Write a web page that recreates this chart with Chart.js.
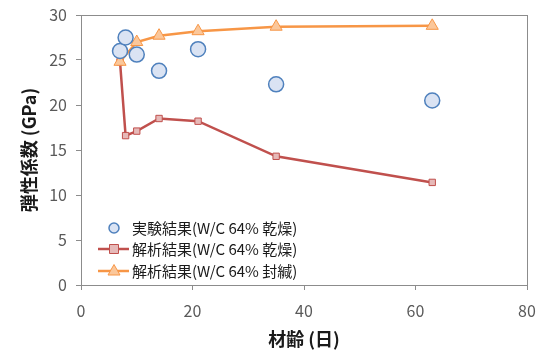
<!DOCTYPE html>
<html>
<head>
<meta charset="utf-8">
<script src="https://cdn.jsdelivr.net/npm/chart.js@4/dist/chart.umd.min.js"></script>
<style>
  html, body { margin: 0; padding: 0; background: #fff; }
  #wrap { width: 541px; height: 350px; position: relative; }
</style>
</head>
<body>
<div id="wrap"><canvas id="c" width="541" height="350"></canvas></div>
<script>
// Ages (days) and elastic modulus (GPa)
const expDays = [7, 8, 10, 14, 21, 35, 63];
const expValues = [26.0, 27.5, 25.6, 23.8, 26.2, 22.3, 20.5];

const dryDays = [7, 8, 10, 14, 21, 35, 63];
const dryValues = [24.8, 16.6, 17.1, 18.5, 18.2, 14.3, 11.4];

const sealDays = [7, 10, 14, 21, 35, 63];
const sealValues = [24.8, 27.0, 27.7, 28.2, 28.7, 28.8];

const seriesLabels = [
  '実験結果(W/C 64% 乾燥)',
  '解析結果(W/C 64% 乾燥)',
  '解析結果(W/C 64% 封緘)'
];
const xTicks = [0, 20, 40, 60, 80];
const yTicks = [0, 5, 10, 15, 20, 25, 30];
const xTitle = '材齢 (日)';
const yTitle = '弾性係数 (GPa)';

const FONT = '"Noto Sans CJK JP", "Noto Sans", sans-serif';

const toPts = (xs, ys) => xs.map((x, i) => ({ x: x, y: ys[i] }));

// Plot frame around the chart area
const framePlugin = {
  id: 'frame',
  afterDraw(chart) {
    const a = chart.chartArea, ctx = chart.ctx;
    ctx.save();
    ctx.strokeStyle = '#8c8c8c';
    ctx.lineWidth = 1;
    ctx.strokeRect(Math.round(a.left) + 0.5, Math.round(a.top) + 0.5,
                   Math.round(a.right - a.left), Math.round(a.bottom - a.top));
    ctx.restore();
  }
};

// Legend inside the plot, lower left: marker (with line for line series) + label
const legendPlugin = {
  id: 'innerLegend',
  afterDraw(chart) {
    const ctx = chart.ctx;
    const x0 = 98, rowY = [228, 249, 271];
    ctx.save();
    ctx.font = '15px ' + FONT;
    ctx.textBaseline = 'middle';
    chart.data.datasets.forEach((ds, i) => {
      const y = rowY[i];
      const cx = x0 + 16;
      if (ds.showLine) {
        ctx.strokeStyle = ds.borderColor;
        ctx.lineWidth = ds.borderWidth;
        ctx.beginPath();
        ctx.moveTo(x0, y);
        ctx.lineTo(x0 + 31, y);
        ctx.stroke();
      }
      ctx.fillStyle = ds.pointBackgroundColor;
      ctx.strokeStyle = ds.pointBorderColor;
      ctx.lineWidth = ds.pointBorderWidth;
      ctx.beginPath();
      if (ds.pointStyle === 'circle') {
        ctx.arc(cx, y, 5, 0, Math.PI * 2);
      } else if (ds.pointStyle === 'rect') {
        ctx.rect(cx - 4.5, y - 4.5, 9, 9);
      } else {
        ctx.moveTo(cx, y - 6.5);
        ctx.lineTo(cx + 6, y + 4);
        ctx.lineTo(cx - 6, y + 4);
        ctx.closePath();
      }
      ctx.fill();
      ctx.stroke();
      ctx.fillStyle = '#1a1a1a';
      ctx.fillText(ds.label, x0 + 34, y);
    });
    ctx.restore();
  }
};

new Chart(document.getElementById('c'), {
  type: 'scatter',
  data: {
    datasets: [
      {
        label: seriesLabels[0],
        data: toPts(expDays, expValues),
        showLine: false,
        pointStyle: 'circle',
        pointRadius: 7.5,
        pointBackgroundColor: '#dae3f3',
        pointBorderColor: '#4f81bd',
        pointBorderWidth: 1.5,
        borderColor: '#4f81bd',
        order: 0
      },
      {
        label: seriesLabels[1],
        data: toPts(dryDays, dryValues),
        showLine: true,
        borderColor: '#c0504d',
        borderWidth: 2.5,
        pointStyle: 'rect',
        pointRadius: 4.5,
        pointBackgroundColor: '#e6b9b8',
        pointBorderColor: '#c0504d',
        pointBorderWidth: 1,
        order: 2
      },
      {
        label: seriesLabels[2],
        data: toPts(sealDays, sealValues),
        showLine: true,
        borderColor: '#f79646',
        borderWidth: 2.5,
        pointStyle: 'triangle',
        pointRadius: 7,
        pointBackgroundColor: '#fbc79a',
        pointBorderColor: '#f79646',
        pointBorderWidth: 1,
        order: 1
      }
    ]
  },
  options: {
    responsive: false,
    animation: false,
    layout: { padding: { top: 15, right: 14, left: 18, bottom: 0 } },
    plugins: { legend: { display: false }, tooltip: { enabled: false } },
    scales: {
      x: {
        type: 'linear',
        min: 0, max: 80,
        afterBuildTicks(s) { s.ticks = xTicks.map(v => ({ value: v })); },
        afterFit(s) { s.height = 65; s.paddingLeft = 0; s.paddingRight = 0; },
        grid: { drawOnChartArea: false, tickLength: 5, color: '#8c8c8c' },
        border: { color: '#8c8c8c' },
        ticks: { color: '#595959', font: { family: FONT, size: 16 }, padding: 11, maxRotation: 0 },
        title: { display: true, text: xTitle, color: '#1a1a1a', font: { family: FONT, size: 18, weight: 'bold' }, padding: { top: 0, bottom: 0 } }
      },
      y: {
        type: 'linear',
        min: 0, max: 30,
        afterBuildTicks(s) { s.ticks = yTicks.map(v => ({ value: v })); },
        afterFit(s) { s.width = 63; s.paddingTop = 0; s.paddingBottom = 0; },
        grid: { drawOnChartArea: false, tickLength: 5, color: '#8c8c8c' },
        border: { color: '#8c8c8c' },
        ticks: { color: '#595959', font: { family: FONT, size: 16 }, padding: 9 },
        title: { display: true, text: yTitle, color: '#1a1a1a', font: { family: FONT, size: 18, weight: 'bold' }, padding: { top: 0, bottom: 0 } }
      }
    }
  },
  plugins: [framePlugin, legendPlugin]
});
</script>
</body>
</html>
